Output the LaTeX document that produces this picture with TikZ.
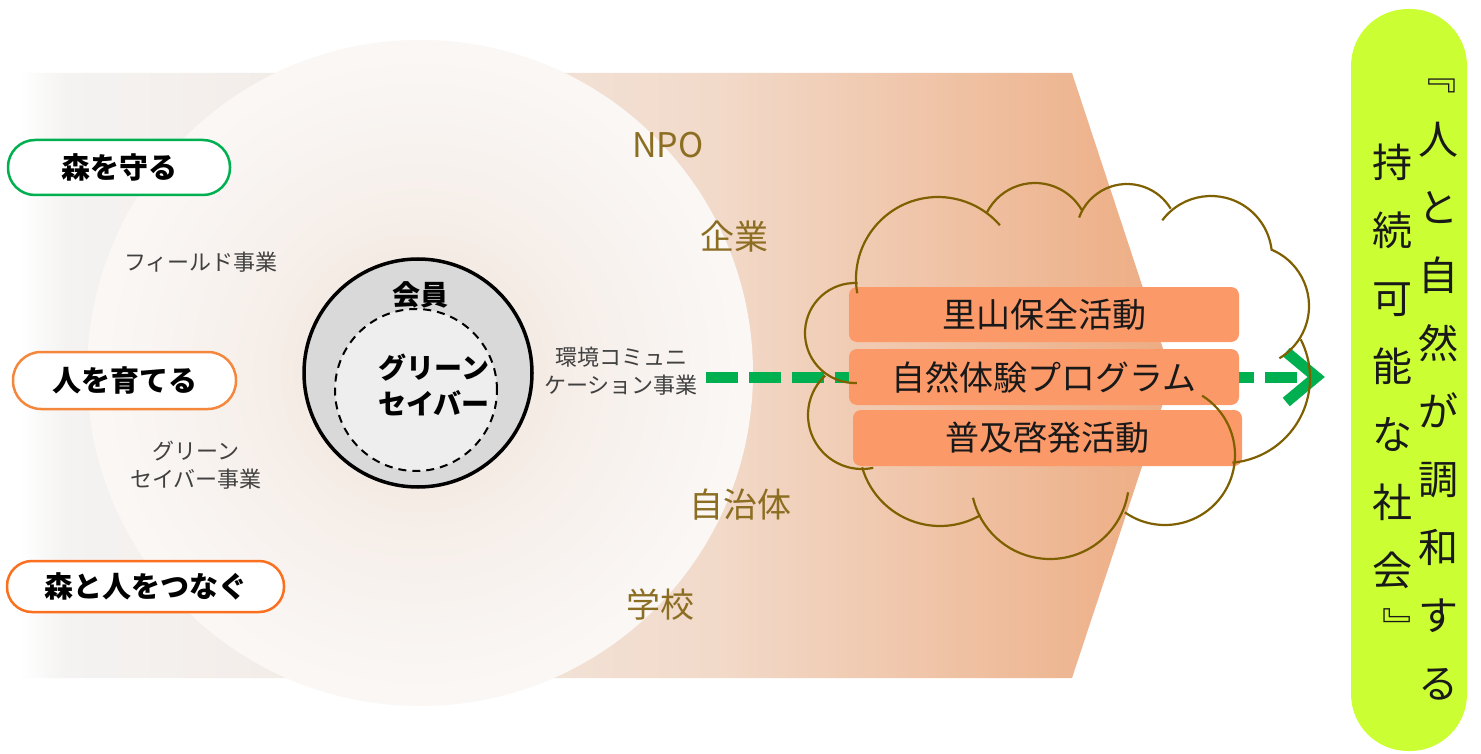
\documentclass[tikz,border=0pt]{standalone}
\usepackage{fontspec}
\setmainfont{Noto Sans CJK JP}
\usetikzlibrary{arrows.meta,calc}
\definecolor{bgA}{RGB}{244,243,242}
\definecolor{bgB}{RGB}{243,234,228}
\definecolor{bgC}{RGB}{242,218,202}
\definecolor{bgD}{RGB}{237,172,130}
\definecolor{haloA}{RGB}{244,234,227}
\definecolor{haloB}{RGB}{247,241,237}
\definecolor{haloC}{RGB}{250,247,245}
\definecolor{pillgreen}{RGB}{0,176,80}
\definecolor{pillorangeA}{RGB}{245,135,60}
\definecolor{pillorangeB}{RGB}{250,112,30}
\definecolor{browntext}{RGB}{140,110,35}
\definecolor{cloudbrown}{RGB}{127,96,0}
\definecolor{actfill}{RGB}{252,153,104}
\definecolor{lime}{RGB}{204,255,51}
\definecolor{ringgray}{RGB}{217,217,217}
\definecolor{innergray}{RGB}{238,238,238}
\definecolor{labelgray}{RGB}{64,64,64}
\definecolor{arrowgreen}{RGB}{0,176,80}
\pgfdeclarehorizontalshading{bgshade}{100bp}{color(0bp)=(white); color(25bp)=(white); color(27bp)=(bgA); color(40bp)=(bgB); color(55bp)=(bgC); color(75bp)=(bgD); color(100bp)=(bgD)}
\pgfdeclareradialshading{halo}{\pgfpoint{0bp}{0bp}}{color(0bp)=(haloA); color(8bp)=(haloA); color(15bp)=(haloB); color(24bp)=(haloC); color(25bp)=(haloC); color(50bp)=(haloC)}
\begin{document}
\begin{tikzpicture}[x=1pt,y=-1pt,
  pill/.style={draw, fill=white, line width=2.5pt, inner sep=0pt, font=\fontsize{29}{34}\selectfont\bfseries},
  smalllabel/.style={inner sep=0pt, align=center, text=labelgray, font=\fontsize{22}{28}\selectfont},
  orglabel/.style={inner sep=0pt, text=browntext, font=\fontsize{34}{40}\selectfont},
  actbox/.style={fill=actfill, rounded corners=8pt, inner sep=0pt, text=black!90, font=\fontsize{34}{40}\selectfont},
  cloudline/.style={draw=cloudbrown, line width=2.2pt},
  greenarrow/.style={draw=arrowgreen, line width=11pt, dash pattern=on 32pt off 11pt, -{Straight Barb[length=30pt,width=50pt]}},
  vtext/.style={inner sep=0pt, align=center, text=black!90, font=\fontsize{40}{68}\selectfont}
]
\useasboundingbox (0,0) rectangle (1481,754);
\fill[white] (0,0) rectangle (1481,754);
% background arrow
\shade[shading=bgshade] (20,73) -- (1072,73) -- (1172,376) -- (1072,678) -- (20,678) -- cycle;
% halo circle
\shade[shading=halo] (420,373) circle[radius=333];

% left pills
\node[pill, draw=pillgreen, minimum width=222pt, minimum height=55pt, rounded corners=27pt] (mori) at (119,167.5) {森を守る};
\node[pill, draw=pillorangeA, minimum width=223pt, minimum height=57pt, rounded corners=28pt] (hito) at (124.5,380.5) {人を育てる};
\node[pill, draw=pillorangeB, minimum width=277pt, minimum height=51pt, rounded corners=25pt] (tsunagu) at (145.5,586.5) {森と人をつなぐ};

% small labels
\node[smalllabel] (field) at (201,262) {フィールド事業};
\node[smalllabel] (gsjigyo) at (196,465) {グリーン\\セイバー事業};
\node[smalllabel] (kankyo) at (621,371) {環境コミュニ\\ケーション事業};

% member circles
\node[circle, draw=black, line width=3.5pt, fill=ringgray, minimum size=228pt, inner sep=0pt] (kaiin) at (418,373) {};
\node[circle, draw=black, line width=2pt, dash pattern=on 8pt off 6pt, fill=innergray, minimum size=162pt, inner sep=0pt] (gscircle) at (416,390) {};
\node[inner sep=0pt, font=\fontsize{28}{34}\selectfont\bfseries] (kaiinlabel) at (420,295) {会員};
\node[inner sep=0pt, align=center, font=\fontsize{28}{36}\selectfont\bfseries] (gslabel) at (434,385) {グリーン\\セイバー};

% organisations
\node[orglabel] (npo) at (668,145) {NPO};
\node[orglabel] (kigyo) at (734,237) {企業};
\node[orglabel] (jichitai) at (740,505) {自治体};
\node[orglabel] (gakko) at (660,605) {学校};

% goal pill
\node[fill=lime, minimum width=116pt, minimum height=742pt, rounded corners=57pt, inner sep=0pt] (goal) at (1409,380) {};
\node[vtext] (goalR) at (1438,411) {人\\と\\自\\然\\が\\調\\和\\す\\る};
\node[vtext] (goalL) at (1392,366) {持\\続\\可\\能\\な\\社\\会};
\node[inner sep=0pt, text=black!90, font=\fontsize{40}{40}\selectfont] (brL) at (1436,86) {﹃};
\node[inner sep=0pt, text=black!90, font=\fontsize{40}{40}\selectfont] (brR) at (1402,626) {﹄};

% green arrow
\coordinate (arrowrow) at (0,377);
\draw[greenarrow] ([xshift=8pt]kankyo.east |- arrowrow) -- ([xshift=-26pt]goal.west |- arrowrow);

% activity boxes
\node[actbox, minimum width=390pt, minimum height=55pt] (box1) at (1044,314.5) {里山保全活動};
\node[actbox, minimum width=390pt, minimum height=56pt] (box2) at (1044,377) {自然体験プログラム};
\node[actbox, minimum width=389pt, minimum height=56pt] (box3) at (1047.5,438) {普及啓発活動};

% cloud outline
\draw[cloudline] (938,279) ++(170:82) arc[start angle=170, end angle=319, radius=82];
\draw[cloudline] (1035,237) ++(207:54) arc[start angle=207, end angle=330, radius=54];
\draw[cloudline] (1127,235) ++(200:51) arc[start angle=200, end angle=329, radius=51];
\draw[cloudline] (1211,257) ++(217:61) arc[start angle=217, end angle=353, radius=61];
\draw[cloudline] (1248,306) ++(-68:61) arc[start angle=-68, end angle=59, radius=61];
\draw[cloudline] (1225,378) ++(85:85) arc[start angle=85, end angle=-27, radius=85];
\draw[cloudline] (1165,455) ++(125:70) arc[start angle=125, end angle=-58, radius=70];
\draw[cloudline] (1050,480) ++(9:79) arc[start angle=9, end angle=167, radius=79];
\draw[cloudline] (940,445) ++(164:81) arc[start angle=164, end angle=60, radius=81];
\draw[cloudline] (862,415) ++(227:54) arc[start angle=227, end angle=78, radius=54];
\draw[cloudline] (855,333) ++(273:50) arc[start angle=273, end angle=88, radius=50];
\end{tikzpicture}
\end{document}
